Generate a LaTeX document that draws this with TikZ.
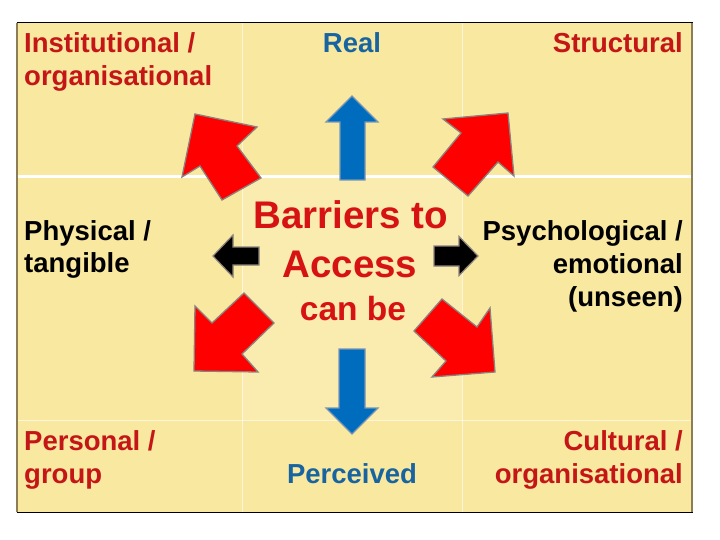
\documentclass[tikz,border=0pt]{standalone}
\usepackage{fontspec}
\setmainfont{Liberation Sans}
\definecolor{cellbg}{RGB}{249,232,160}
\definecolor{cellmid}{RGB}{250,236,174}
\definecolor{txtred}{RGB}{196,22,22}
\definecolor{txtblue}{RGB}{24,100,160}
\definecolor{arrred}{RGB}{255,0,0}
\definecolor{arrblue}{RGB}{0,108,190}
\definecolor{edgegrey}{RGB}{140,130,125}
\definecolor{edgeblue}{RGB}{120,150,180}
\definecolor{sidecol}{RGB}{140,125,85}
\definecolor{ctrred}{RGB}{215,18,18}
\tikzset{
  lbl/.style={inner sep=0pt, font=\fontsize{27.5}{33}\selectfont\bfseries},
  big/.style={inner sep=0pt, font=\fontsize{38.5}{44}\selectfont\bfseries},
  mid/.style={inner sep=0pt, font=\fontsize{33.5}{40}\selectfont\bfseries},
  redarr/.style={fill=arrred, draw=edgegrey, line width=1.3pt, line join=miter},
  bluearr/.style={fill=arrblue, draw=edgeblue, line width=1.2pt, line join=miter},
  blackarr/.style={fill=black, draw=edgegrey, line width=1.2pt, line join=miter},
  gridline/.style={draw=white, line width=0.7pt, opacity=0.6},
}
\begin{document}
\begin{tikzpicture}[x=1pt,y=-1pt]
\useasboundingbox (0,0) rectangle (720,540);
\fill[white] (0,0) rectangle (720,540);
% table
\fill[cellbg] (17,23) rectangle (692,512);
\fill[cellmid] (242,177) rectangle (462,420);
\draw[gridline] (242,23) -- (242,512);
\draw[gridline] (462,23) -- (462,512);
\draw[gridline] (17,420) -- (692,420);
\draw[draw=white, line width=2.6pt] (17,176.5) -- (692,176.5);
\draw[black, line width=1pt] (16.5,23) -- (692.5,23);
\draw[black, line width=1pt] (16.5,512) -- (692.5,512);
\draw[sidecol, line width=1.6pt] (17,23) -- (17,512);
\draw[sidecol, line width=1.6pt] (692,23) -- (692,512);

% corner and side labels
\node[lbl, txtred, anchor=base west] (inst1) at (24,52.5) {Institutional /};
\node[lbl, txtred, anchor=base west] (inst2) at (24,86) {organisational};
\node[lbl, txtblue, anchor=base] (real) at (352,52.5) {Real};
\node[lbl, txtred, anchor=base east] (struct) at (683,52.5) {Structural};
\node[lbl, anchor=base west] (phys1) at (24,240.5) {Physical /};
\node[lbl, anchor=base west] (phys2) at (24,272.5) {tangible};
\node[lbl, anchor=base east] (psy1) at (683,240.5) {Psychological /};
\node[lbl, anchor=base east] (psy2) at (683,273) {emotional};
\node[lbl, anchor=base east] (psy3) at (683,306) {(unseen)};
\node[lbl, txtred, anchor=base west] (pers1) at (24,450) {Personal /};
\node[lbl, txtred, anchor=base west] (pers2) at (24,483) {group};
\node[lbl, txtblue, anchor=base] (perc) at (352,483) {Perceived};
\node[lbl, txtred, anchor=base east] (cult1) at (683,450.5) {Cultural /};
\node[lbl, txtred, anchor=base east] (cult2) at (683,483.5) {organisational};

% centre text
\node[big, ctrred, anchor=base] (bar) at (351,229) {Barriers to};
\node[big, ctrred, anchor=base] (acc) at (350,277) {Access};
\node[mid, ctrred, anchor=base] (can) at (353,320.5) {can be};

% blue arrows
\draw[bluearr] (352,96) -- (378,122) -- (365,122) -- (365,180) -- (340,180) -- (340,122) -- (326,122) -- cycle;
\draw[bluearr] (352,434) -- (378,408) -- (365,408) -- (365,349) -- (339,349) -- (339,408) -- (326,408) -- cycle;
% black arrows
\draw[blackarr] (213,256) -- (233,235) -- (233,247) -- (259,247) -- (259,265) -- (233,265) -- (233,277) -- cycle;
\draw[blackarr] (478,256) -- (459,236.5) -- (459,246) -- (434,246) -- (434,266) -- (459,266) -- (459,275.5) -- cycle;
% red arrows
\draw[redarr] (195,114) -- (257,127) -- (237,146) -- (261,178) -- (222,200) -- (200,166) -- (182,177) -- cycle;
\draw[redarr] (508,113) -- (443,119) -- (461,133) -- (433,167) -- (468,196) -- (498,162) -- (514,176) -- cycle;
\draw[redarr] (194,371) -- (195,306) -- (212,323) -- (244,293) -- (274,323) -- (242,354) -- (258,372) -- cycle;
\draw[redarr] (495,372) -- (490,308) -- (477,327) -- (442,299) -- (414,331) -- (446,361) -- (432,377) -- cycle;
\end{tikzpicture}
\end{document}
